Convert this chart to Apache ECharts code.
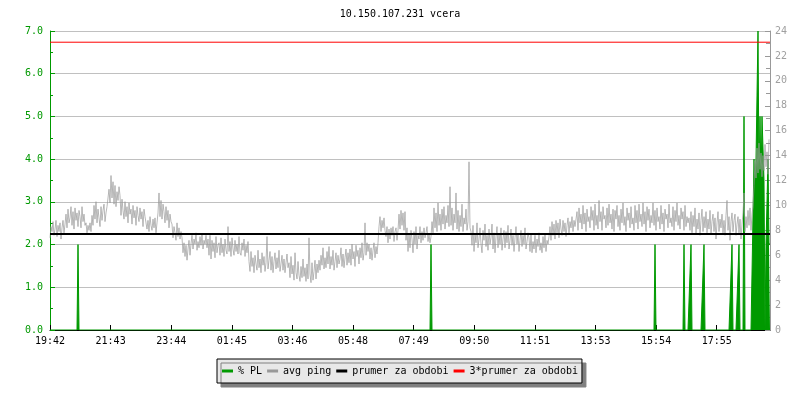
<!DOCTYPE html>
<html>
<head>
<meta charset="utf-8">
<script src="https://cdn.jsdelivr.net/npm/echarts@6/dist/echarts.min.js"></script>
<style>
html,body{margin:0;padding:0;background:#fff;}
#chart{width:800px;height:400px;}
</style>
</head>
<body>
<div id="chart"></div>
<script>
// ---- data ----
const titleText = '10.150.107.231 vcera';
const xTickMinutes = [0, 121.2, 242.4, 363.7, 484.9, 606.1, 727.3, 848.5, 969.8, 1091, 1212.2, 1333.4];
const xTickLabels = ['19:42','21:43','23:44','01:45','03:46','05:48','07:49','09:50','11:51','13:53','15:54','17:55'];
const pingStepMinutes = 2;
const pingValues = [
7.4,8.3,7.9,8.7,7.6,8.1,8.8,7.5,8.4,7.9,8.6,7.3,8.2,8.8,7.8,8.5,
9.3,8.2,9.7,8.6,9.0,9.9,8.4,9.5,8.1,9.8,8.8,9.4,8.3,9.6,9.1,8.2,9.9,8.7,9.3,8.4,
8.6,7.8,8.4,8.0,8.6,7.9,
9.2,8.4,10.0,8.9,10.3,8.6,9.7,9.0,8.3,9.9,8.8,9.6,10.1,8.7,9.4,9.9,
9.8,11.3,10.2,12.4,10.6,11.9,10.1,11.6,9.9,11.1,10.4,11.5,
10.8,9.2,10.5,9.6,8.9,10.3,9.1,9.9,8.6,10.2,9.3,9.7,8.5,10.0,9.0,9.6,8.4,9.9,9.2,8.7,9.8,8.9,9.5,8.3,9.7,9.1,
9.0,8.1,8.8,7.9,9.1,8.4,8.0,8.9,8.2,9.0,7.8,8.6,
9.4,11.0,9.1,10.4,8.9,10.1,9.5,8.6,9.9,8.8,9.6,8.2,9.3,8.7,
8.5,7.4,8.3,7.8,7.2,8.6,7.5,8.2,7.3,7.9,
7.4,6.2,7.0,5.9,6.8,5.6,6.5,7.2,6.0,6.9,
7.6,6.5,7.3,6.9,7.8,6.4,7.1,6.6,7.5,6.8,7.7,6.5,7.2,6.9,7.6,6.6,7.3,
6.0,7.6,5.7,7.2,6.3,7.0,5.8,7.5,6.2,6.8,
7.0,6.0,7.4,6.2,6.9,5.9,7.3,6.4,6.1,8.3,6.3,7.1,5.9,7.4,6.5,6.0,7.2,6.3,6.9,6.1,7.5,6.2,6.0,7.0,6.4,7.3,5.9,6.8,6.2,7.1,
5.5,4.7,6.3,5.1,5.8,4.6,6.0,5.3,4.8,6.4,5.0,5.7,4.6,6.2,5.2,5.9,4.7,5.4,7.5,4.9,5.6,6.3,4.8,5.9,4.6,5.5,6.2,4.9,5.8,5.0,6.4,4.7,5.3,6.0,4.8,5.7,4.6,5.4,6.1,5.0,
5.4,4.2,5.9,4.5,5.2,4.0,6.2,4.6,4.1,5.5,4.4,3.9,5.1,4.2,5.7,4.3,5.0,3.9,5.3,4.1,7.4,4.5,3.8,5.4,4.0,4.7,5.6,4.1,5.3,4.6,
5.6,4.8,6.0,5.2,6.6,4.9,5.8,5.0,6.3,5.3,6.7,4.9,5.9,5.2,6.4,4.8,5.5,6.2,5.0,6.0,5.3,5.7,6.6,5.1,6.1,5.0,5.8,6.5,5.2,6.2,
5.4,6.5,5.2,6.9,5.7,6.3,5.1,6.8,5.9,6.4,5.3,6.6,5.8,7.0,5.6,6.2,8.6,6.0,7.0,6.3,
6.9,5.7,6.6,5.6,6.4,7.0,5.8,6.7,6.1,7.0,
8.3,9.1,7.9,8.8,8.2,9.0,8.0,
7.5,8.3,7.0,8.1,7.3,8.2,7.6,8.3,7.1,7.9,8.2,7.2,8.0,
9.3,8.1,9.6,8.4,9.4,8.0,9.5,
7.2,8.2,6.3,7.7,6.6,8.0,7.3,6.2,7.9,6.9,8.3,6.5,7.6,
7.3,8.3,7.0,7.9,7.2,8.2,7.4,7.8,8.3,7.1,7.7,7.0,7.5,
8.7,7.8,9.8,8.2,9.4,7.9,10.2,8.4,9.3,8.0,9.7,8.5,9.9,8.1,9.2,8.6,10.0,8.3,11.5,
8.4,9.8,8.0,9.3,8.6,11.0,8.1,9.6,7.9,9.2,8.3,10.1,7.9,9.0,8.5,9.7,8.0,8.7,13.5,8.2,
7.9,6.8,8.4,6.3,7.7,7.0,8.6,6.6,7.3,8.2,6.9,6.2,8.0,7.2,8.5,6.7,7.6,6.4,8.1,6.9,7.4,8.5,6.5,7.8,6.2,7.5,8.3,6.6,7.7,6.9,8.2,6.4,7.3,8.0,6.6,7.9,7.0,8.4,6.5,7.2,8.1,6.8,7.6,6.3,7.4,8.3,6.9,7.7,6.3,7.2,8.0,6.7,7.6,6.9,8.2,6.5,7.1,7.8,
7.4,6.3,7.7,6.2,7.1,6.5,7.6,6.2,7.3,6.7,7.8,6.4,7.0,6.2,7.5,6.6,7.7,6.3,7.2,6.9,
7.5,8.3,7.2,8.7,7.6,8.5,7.3,8.8,7.8,8.6,7.4,8.9,8.1,7.6,8.8,7.9,8.6,7.5,8.4,9.0,7.8,8.7,8.2,9.1,7.9,8.8,8.3,
8.3,9.5,8.0,9.8,8.6,9.3,8.1,10.0,8.5,9.4,7.9,9.7,8.7,9.1,8.2,9.9,8.8,9.6,8.0,10.1,
8.4,9.2,8.1,10.4,8.7,9.5,8.0,9.9,8.9,9.2,8.2,9.8,8.4,10.1,8.6,9.3,8.1,9.7,7.9,9.6,
8.9,10.0,8.3,9.2,8.0,9.7,8.6,10.2,8.4,9.1,7.9,9.8,8.8,9.4,8.2,9.9,8.5,9.0,8.0,10.0,
8.6,9.6,8.1,10.1,8.7,9.3,8.3,10.2,8.5,9.5,7.9,9.9,8.8,9.7,8.2,9.2,8.6,10.2,8.4,9.6,
8.0,9.8,8.7,9.1,8.1,10.0,8.5,9.4,7.9,9.7,8.9,9.3,8.2,10.1,8.6,9.0,8.3,9.9,8.0,9.6,
8.7,10.2,8.4,9.2,8.1,9.8,8.9,9.5,8.0,10.0,8.3,9.1,8.6,
9.0,8.0,9.5,7.8,9.2,8.3,9.8,7.7,8.9,8.1,9.4,7.6,8.8,9.7,7.9,9.1,8.2,9.5,7.8,8.9,
8.1,9.6,7.7,8.7,9.3,7.9,9.0,7.3,8.6,9.5,7.9,8.9,8.2,9.3,7.8,8.8,7.6,9.2,10.4,8.0,
9.1,7.2,8.7,9.4,7.9,8.8,9.3,7.6,8.5,9.1,7.8,8.9,7.3,8.5,9.4,11.0,7.9,9.1,8.2,9.6,
8.4,9.8,8.0,9.3,9.9,
11.6,13.6,12.2,14.6,12.6,15.0,12.9,14.2,12.3,14.0,12.8,14.9,13.1,14.3,12.5,15.3
];
// packet loss (%), 2-minute samples; all other samples are 0
const plStepMinutes = 2;
const plMinutes = [56, 762, 1210, 1268, 1282, 1308, 1364, 1378, 1388,
  1408, 1410, 1412, 1414, 1416, 1418, 1420, 1422, 1424, 1426, 1428, 1430, 1432, 1434, 1436, 1438, 1440];
const plValues = [2, 2, 2, 2, 2, 2, 2, 2, 5,
  4, 3.5, 4, 5.5, 7, 3.5, 5, 3.5, 5, 5, 3.5, 0, 2, 2, 4, 2, 2];
const prumer = 7.7;       // average ping over period
const prumer3 = 23.1;     // 3 * average
const totalMinutes = 1440;

// ---- build series data ----
const pingData = pingValues.map((v, i) => [i * pingStepMinutes, v]);
const plData = [];
for (let m = 0; m <= totalMinutes; m += plStepMinutes) {
  const k = plMinutes.indexOf(m);
  plData.push([m, k >= 0 ? plValues[k] : 0]);
}

const FONT = 'DejaVu Sans Mono';
const GREEN = '#009900';
const GRAY = '#999999';

const chart = echarts.init(document.getElementById('chart'), null, {renderer: 'canvas'});
chart.setOption({
  animation: false,
  backgroundColor: '#ffffff',
  title: {
    text: titleText,
    left: 'center',
    top: 4,
    textStyle: {fontFamily: FONT, fontSize: 10, fontWeight: 'normal', color: '#000'}
  },
  legend: {
    left: 217,
    top: 359,
    padding: [7, 4, 7, 5],
    itemGap: 5,
    itemWidth: 11,
    itemHeight: 3,
    backgroundColor: '#e8e8e8',
    borderColor: '#000',
    borderWidth: 1,
    borderRadius: 0,
    shadowColor: '#808080',
    shadowBlur: 0,
    shadowOffsetX: 4,
    shadowOffsetY: 4,
    textStyle: {fontFamily: FONT, fontSize: 10, color: '#000'},
    data: [
      {name: '% PL', icon: 'rect', itemStyle: {color: GREEN, borderWidth: 0}},
      {name: 'avg ping', icon: 'rect', itemStyle: {color: GRAY, borderWidth: 0}},
      {name: 'prumer za obdobi', icon: 'rect', itemStyle: {color: '#000', borderWidth: 0}},
      {name: '3*prumer za obdobi', icon: 'rect', itemStyle: {color: '#ff0000', borderWidth: 0}}
    ]
  },
  grid: {left: 50, right: 30, top: 31, bottom: 70, containLabel: false},
  xAxis: {
    type: 'value',
    min: 0,
    max: totalMinutes,
    axisLine: {show: true, lineStyle: {color: '#000', width: 1}},
    axisTick: {show: true, inside: true, length: 5, lineStyle: {color: '#000'}, customValues: xTickMinutes},
    axisLabel: {
      show: true, margin: 6, color: '#000', fontFamily: FONT, fontSize: 10,
      customValues: xTickMinutes,
      formatter: function (v) {
        const i = xTickMinutes.findIndex(m => Math.abs(m - v) < 0.5);
        return i >= 0 ? xTickLabels[i] : '';
      }
    },
    splitLine: {show: false}
  },
  yAxis: [
    {
      type: 'value', position: 'left', min: 0, max: 7, interval: 1,
      axisLine: {show: true, lineStyle: {color: GREEN, width: 1}},
      axisTick: {show: true, inside: true, length: 5, lineStyle: {color: GREEN}},
      minorTick: {show: true, splitNumber: 2, length: 3, lineStyle: {color: GREEN}},
      axisLabel: {color: GREEN, fontFamily: FONT, fontSize: 10, margin: 7, formatter: v => v.toFixed(1)},
      splitLine: {show: true, lineStyle: {color: '#c0c0c0', width: 1}}
    },
    {
      type: 'value', position: 'right', min: 0, max: 24, interval: 2,
      axisLine: {show: true, lineStyle: {color: GRAY, width: 1}},
      axisTick: {show: true, inside: true, length: 5, lineStyle: {color: GRAY}},
      minorTick: {show: true, splitNumber: 2, length: 4, lineStyle: {color: GRAY}},
      axisLabel: {color: '#a0a0a0', fontFamily: FONT, fontSize: 10, margin: 5},
      splitLine: {show: false}
    }
  ],
  series: [
    {
      name: '% PL', type: 'line', yAxisIndex: 0, data: plData,
      symbol: 'none', silent: true, z: 2,
      lineStyle: {color: GREEN, width: 1},
      itemStyle: {color: GREEN},
      areaStyle: {color: GREEN, opacity: 1}
    },
    {
      name: 'avg ping', type: 'line', yAxisIndex: 1, data: pingData,
      symbol: 'none', silent: true, z: 3,
      lineStyle: {color: GRAY, width: 0.7},
      itemStyle: {color: GRAY}
    },
    {
      name: 'prumer za obdobi', type: 'line', yAxisIndex: 1,
      data: [[0, prumer], [totalMinutes, prumer]],
      symbol: 'none', silent: true, z: 4,
      lineStyle: {color: '#000', width: 2},
      itemStyle: {color: '#000'}
    },
    {
      name: '3*prumer za obdobi', type: 'line', yAxisIndex: 1,
      data: [[0, prumer3], [totalMinutes, prumer3]],
      symbol: 'none', silent: true, z: 4,
      lineStyle: {color: '#ff0000', width: 1},
      itemStyle: {color: '#ff0000'}
    }
  ]
});
</script>
</body>
</html>
